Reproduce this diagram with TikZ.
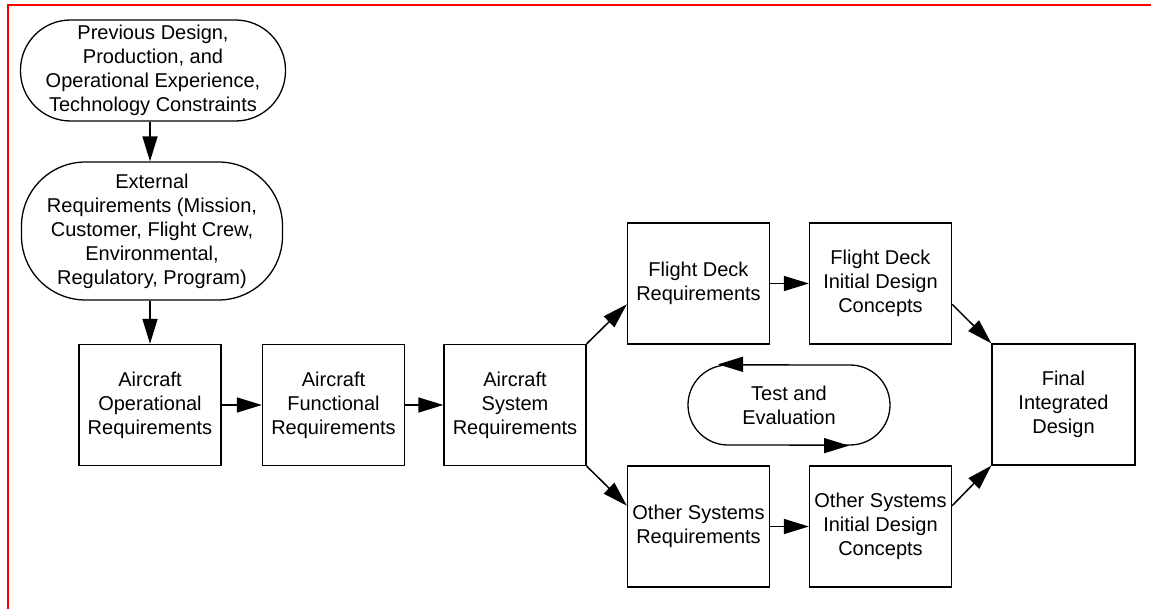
\documentclass[tikz,border=0pt]{standalone}
\usepackage{fontspec}
\setmainfont{Liberation Sans}
\usetikzlibrary{calc,arrows.meta}

\begin{document}
\begin{tikzpicture}[x=1pt,y=-1pt,
    every node/.style={font=\fontsize{20}{24}\selectfont,align=center,inner sep=0pt},
    box/.style={draw,line width=1.3pt,minimum width=142pt,minimum height=121pt},
    pill/.style={draw,line width=1.3pt},
    flow/.style={line width=1.5pt,-{Triangle[length=25pt,width=15pt]}}]
  \useasboundingbox (0,0) rectangle (1151,609);
  \draw[red,line width=2.5pt] (8,609) -- (8,5) -- (1151,5);

  \node[pill,rounded corners=50pt,minimum width=265pt,minimum height=101pt] (prev) at (153,70.5)
    {Previous Design,\\Production, and\\Operational Experience,\\Technology Constraints};
  \node[pill,rounded corners=64pt,minimum width=261pt,minimum height=138pt] (ext) at (152,231)
    {External\\Requirements (Mission,\\Customer, Flight Crew,\\Environmental,\\Regulatory, Program)};

  \node[box] (ops) at (150,405) {Aircraft\\Operational\\Requirements};
  \node[box] (func) at (333.5,405) {Aircraft\\Functional\\Requirements};
  \node[box] (sys) at (515,405) {Aircraft\\System\\Requirements};
  \node[box] (fd req) at (698.5,283.5) {Flight Deck\\Requirements};
  \node[box] (fd init) at (880.5,283.5) {Flight Deck\\Initial Design\\Concepts};
  \node[box] (os req) at (698.5,526.5) {Other Systems\\Requirements};
  \node[box] (os init) at (880.5,526.5) {Other Systems\\Initial Design\\Concepts};
  \node[box,minimum width=143pt] (final) at (1063.5,404.5) {Final\\Integrated\\Design};
  \node[pill,rounded corners=40pt,minimum width=202pt,minimum height=80pt] (test) at (789,405)
    {Test and\\Evaluation};

  \draw[flow] (prev.south -| 150,0) -- (ext.north -| 150,0);
  \draw[flow] (ext.south -| ops.north) -- (ops.north);
  \draw[flow] (ops) -- (func);
  \draw[flow] (func) -- (sys);
  \draw[flow] (sys.north east) -- ($ (fd req.north west) ! 0.67 ! (fd req.south west) $);
  \draw[flow] (sys.south east) -- ($ (os req.north west) ! 0.33 ! (os req.south west) $);
  \draw[flow] (fd req) -- (fd init);
  \draw[flow] (os req) -- (os init);
  \draw[flow] ($ (fd init.north east) ! 0.67 ! (fd init.south east) $) -- (final.north west);
  \draw[flow] ($ (os init.north east) ! 0.33 ! (os init.south east) $) -- (final.south west);

  \coordinate (test left tip) at ($ (test.north) + (-71,0) $);
  \coordinate (test right tip) at ($ (test.south) + (60,0) $);
  \draw[flow] (test.north) -- (test left tip);
  \draw[flow] (test.south) -- (test right tip);
\end{tikzpicture}
\end{document}
